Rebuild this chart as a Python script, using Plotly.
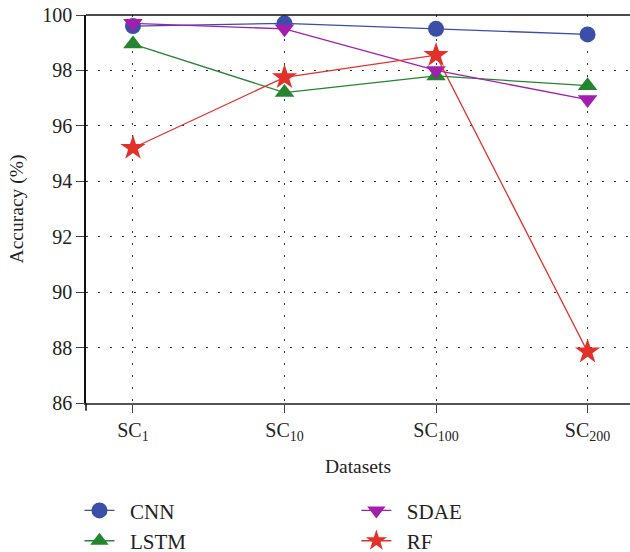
import plotly.graph_objects as go

categories = ["SC<sub>1</sub>", "SC<sub>10</sub>", "SC<sub>100</sub>", "SC<sub>200</sub>"]
cnn = [99.6, 99.7, 99.5, 99.3]
lstm = [98.95, 97.2, 97.8, 97.45]
sdae = [99.7, 99.5, 98.0, 96.95]
rf = [95.2, 97.75, 98.55, 87.85]
y_ticks = [86, 88, 90, 92, 94, 96, 98, 100]

FONT = "Liberation Serif"
xs = list(range(len(categories)))

series = [
    ("CNN", cnn, "#3b4ea8", "circle", 16, "legend"),
    ("LSTM", lstm, "#23852f", "triangle-up", 17, "legend"),
    ("SDAE", sdae, "#a21fae", "triangle-down", 17, "legend2"),
    ("RF", rf, "#e2302a", "star", 19, "legend2"),
]

fig = go.Figure()
for name, vals, color, sym, size, lg in series:
    fig.add_trace(go.Scatter(
        x=xs, y=vals, name="\u2002" + name, mode="lines+markers",
        line=dict(color=color, width=1.3),
        marker=dict(symbol=sym, size=size, color=color, line=dict(width=0)),
        legend=lg,
    ))

fig.update_layout(
    width=630, height=552,
    margin=dict(l=86, r=0, t=15, b=149, autoexpand=False),
    paper_bgcolor="white", plot_bgcolor="white",
    font=dict(family=FONT, size=19, color="#222"),
    legend=dict(x=-0.012, y=-0.225, xanchor="left", yanchor="top",
                font=dict(family=FONT, size=21), tracegroupgap=0,
                bgcolor="rgba(0,0,0,0)"),
    legend2=dict(x=0.497, y=-0.225, xanchor="left", yanchor="top",
                 font=dict(family=FONT, size=21), tracegroupgap=0,
                 bgcolor="rgba(0,0,0,0)"),
)
fig.update_xaxes(
    range=[-0.31, 3.28], tickmode="array", tickvals=xs, ticktext=categories,
    showgrid=True, gridcolor="#333", griddash="2px,10px", gridwidth=1,
    showline=True, linecolor="#555", linewidth=2, mirror=False,
    ticks="outside", ticklen=8, tickcolor="#444",
    tickfont=dict(family=FONT, size=20), automargin=False,
    title=dict(text="Datasets", font=dict(family=FONT, size=19.5), standoff=16),
    zeroline=False,
)
fig.update_yaxes(
    range=[86, 100], tickmode="array", tickvals=y_ticks,
    showgrid=True, gridcolor="#333", griddash="2px,10px", gridwidth=1,
    showline=True, linecolor="#111", linewidth=1.5,
    ticks="outside", ticklen=8, tickcolor="#444",
    tickfont=dict(family=FONT, size=20), automargin=False,
    title=dict(text="Accuracy (%)", font=dict(family=FONT, size=19.5), standoff=13),
    zeroline=False,
)
# top border
fig.add_shape(type="line", xref="paper", yref="paper", x0=0, x1=1, y0=1, y1=1,
              line=dict(color="#111", width=1.5))
# small extension of the y-axis line below the x axis
fig.add_shape(type="line", xref="paper", yref="paper", x0=0, x1=0, y0=-0.02, y1=0,
              line=dict(color="#111", width=1.5))

fig.write_html("out.html", config={"displayModeBar": False},
               post_script="document.body.style.margin='0';document.body.style.overflow='hidden';")
